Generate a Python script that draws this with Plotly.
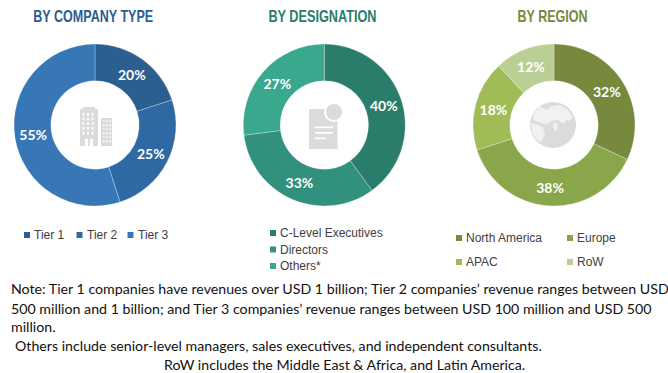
import plotly.graph_objects as go

W, H = 668, 373

# ---- data ----
company_labels = ["Tier 1", "Tier 2", "Tier 3"]
company_values = [20, 25, 55]
company_colors = ["#2A5F8F", "#2F69A3", "#3877B6"]

designation_labels = ["C-Level Executives", "Directors", "Others*"]
designation_values = [40, 33, 27]
designation_colors = ["#2A7D6B", "#31917E", "#3AA78F"]

region_labels = ["North America", "Europe", "APAC", "RoW"]
region_values = [32, 38, 18, 12]
region_colors = ["#76893D", "#8AA64A", "#A0BC57", "#B9CF93"]

titles = ["BY COMPANY TYPE", "BY DESIGNATION", "BY REGION"]
title_colors = ["#2A5F8F", "#2A7D6B", "#76893D"]

notes = [
    "Note: Tier 1 companies have revenues over USD 1 billion; Tier 2 companies\u2019 revenue ranges between USD",
    "500 million and 1 billion; and Tier 3 companies\u2019 revenue ranges between USD 100 million and USD 500",
    "million.",
    "Others include senior-level managers, sales executives, and independent consultants.",
    "RoW includes the Middle East &amp; Africa, and Latin America.",
]

# ---- layout helpers ----
def px(x): return x / W
def py(y): return 1 - y / H

centers = [95, 324.3, 554]
CY, R = 125, 81
GRAY = "#DBDBDB"

fig = go.Figure()
sets = [(company_labels, company_values, company_colors),
        (designation_labels, designation_values, designation_colors),
        (region_labels, region_values, region_colors)]
for (lab, val, col), cx in zip(sets, centers):
    fig.add_trace(go.Pie(
        labels=lab, values=val, sort=False, direction="clockwise", rotation=0,
        hole=0.545, marker=dict(colors=col, line=dict(color="rgba(255,255,255,0.45)", width=0.6)),
        domain=dict(x=[px(cx - R), px(cx + R)], y=[py(CY + R), py(CY - R)]),
        texttemplate="%{value}%", textposition="inside", insidetextorientation="horizontal",
        textfont=dict(family="Lato, Open Sans, sans-serif", size=14, color="white", weight="bold"),
        showlegend=False, hoverinfo="label+percent",
    ))

ann, shp = [], []

def text(x, y, s, size, color, family, anchor="left", weight="normal"):
    ann.append(dict(x=px(x), y=py(y), xref="paper", yref="paper", text=s, showarrow=False,
                    xanchor=anchor, yanchor="middle", align=anchor,
                    font=dict(size=size, color=color, family=family, weight=weight),
                    borderpad=0))

def rect(x0, y0, x1, y1, color):
    shp.append(dict(type="rect", xref="paper", yref="paper", x0=px(x0), x1=px(x1),
                    y0=py(y0), y1=py(y1), fillcolor=color, line=dict(width=0)))

def path(pts, color):
    d = "M" + " L".join(f"{px(a):.5f},{py(b):.5f}" for a, b in pts) + " Z"
    shp.append(dict(type="path", xref="paper", yref="paper", path=d, fillcolor=color, line=dict(width=0)))

def circle(cx, cy, r, color):
    shp.append(dict(type="circle", xref="paper", yref="paper", x0=px(cx - r), x1=px(cx + r),
                    y0=py(cy + r), y1=py(cy - r), fillcolor=color, line=dict(width=0)))

# titles
TITLE_FONT = "Liberation Sans, Arial, sans-serif"
for t, c, x in zip(titles, title_colors, [93, 322, 552]):
    text(x, 16, t, 17, c, TITLE_FONT, "center", "bold")

# legends
LEG = "Liberation Sans, Arial, sans-serif"
LC = "#404040"
legend_pos = [
    [(24, 235), (76.5, 235), (127.5, 235)],
    [(270, 233), (270, 249.5), (270, 266)],
    [(456, 238), (567, 238), (456, 262), (567, 262)],
]
for (lab, _, col), poss in zip(sets, legend_pos):
    for l, c, (x, y) in zip(lab, col, poss):
        rect(x, y - 3, x + 6, y + 3, c)
        text(x + 9, y, l, 12, LC, LEG)

# notes
NOTE = "Lato, Open Sans, sans-serif"
note_pos = [(10, 288), (10, 308), (10, 326), (14, 345), (163, 364)]
for s, (x, y) in zip(notes, note_pos):
    text(x, y, s, 14.2, "#111111", NOTE)

# building icon
rect(80, 109, 98, 146, GRAY)
rect(83, 107, 95, 109, GRAY)
rect(101, 118, 112, 146, GRAY)
for col in range(3):
    for row in range(5):
        rect(82.5 + col * 4.5, 113 + row * 4.7, 84.5 + col * 4.5, 115.5 + row * 4.7, "white")
for col in range(3):
    for row in range(6):
        rect(103 + col * 3.2, 120.5 + row * 4, 104.6 + col * 3.2, 122 + row * 4, "white")
rect(83, 137, 95, 146, "white")
rect(85, 137, 93, 139, GRAY)
rect(83, 137, 85, 146, GRAY); rect(88, 139, 90, 146, GRAY); rect(93, 137, 95, 146, GRAY)

# document icon
rect(309, 109, 337.5, 149, GRAY)
circle(334, 112, 10, "white")
circle(334, 112, 8, GRAY)
rect(315, 126.5, 333, 128.2, "white")
rect(315, 132, 333, 133.7, "white")
rect(315, 137.5, 326, 139.2, "white")

# globe icon
LIGHT = "#F1F1F1"
circle(553, 125, 23, GRAY)
path([(534, 113), (540, 106), (546, 110), (552, 106), (560, 105), (568, 110), (573, 117), (570, 121),
      (566, 120), (564, 124), (558, 120), (551, 121), (547, 125), (542, 123), (538, 122), (533, 120)], LIGHT)
path([(531, 123), (537, 124), (543, 128), (545, 134), (541, 142), (536, 139), (532, 132)], LIGHT)
path([(553, 122), (558, 124), (556, 132), (553, 127)], LIGHT)

fig.update_layout(
    width=W, height=H, margin=dict(l=0, r=0, t=0, b=0),
    paper_bgcolor="white", plot_bgcolor="white",
    annotations=ann, shapes=shp, showlegend=False,
)
# The reference titles use a condensed face: squeeze them to their measured widths.
post = """
document.body.style.margin='0';document.body.style.overflow='hidden';
var w={'BY COMPANY TYPE':120,'BY DESIGNATION':108,'BY REGION':70};
document.querySelectorAll('.annotation-text').forEach(function(t){
  var k=t.textContent;
  if(w[k]){t.setAttribute('textLength',w[k]);t.setAttribute('lengthAdjust','spacingAndGlyphs');}
});
"""
fig.write_html("out.html", post_script=post, config={"displayModeBar": False})
